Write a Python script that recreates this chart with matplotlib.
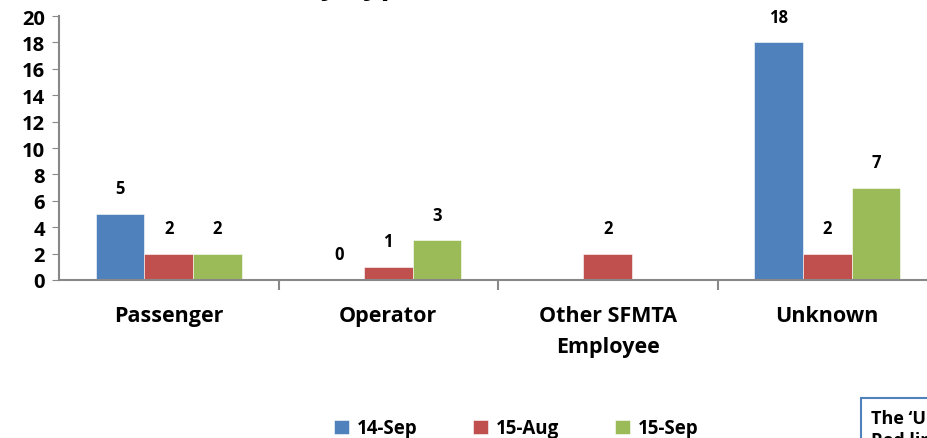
import numpy as np
from matplotlib import pyplot as plt

CATEGORIES = ["Passenger", "Operator", "Other SFMTA\nEmployee", "Unknown"]
SERIES = ["14-Sep", "15-Aug", "15-Sep"]
SEP_14 = [5, 0, np.nan, 18]
AUG_15 = [2, 1, 2, 2]
SEP_15 = [2, 3, np.nan, 7]
COLORS = ["#4F81BD", "#C0504D", "#9BBB59"]
Y_TICKS = list(range(0, 21, 2))

plt.rcParams['font.family'] = ['Open Sans', 'DejaVu Sans']
plt.rcParams['font.weight'] = 'bold'

fig = plt.figure(figsize=(9.27, 4.39), dpi=100)
ax = fig.add_axes([59 / 927, 158 / 439, 4 * 219.5 / 927, 264 / 439])

x = np.arange(len(CATEGORIES))
w = 0.222
for i, (name, vals, col) in enumerate(zip(SERIES, [SEP_14, AUG_15, SEP_15], COLORS)):
    pos = x + (i - 1) * w
    ax.bar(pos, vals, w, color=col, label=name, edgecolor='white', linewidth=0.4)
    for p, v in zip(pos, vals):
        if not np.isnan(v):
            ax.annotate(f"{v:g}", (p, v), xytext=(0, 18.5), textcoords='offset points',
                        ha='center', va='center', fontsize=12, fontweight='bold')

ax.set_xlim(-0.5, 3.5)
ax.set_ylim(0, 20)
ax.set_yticks(Y_TICKS)
ax.tick_params(axis='y', labelsize=14.5, length=5, color='#888888', pad=5)
ax.set_xticks(x)
ax.set_xticklabels(CATEGORIES, fontsize=15.5, fontweight='bold', linespacing=1.6)
ax.tick_params(axis='x', length=0, pad=18)
ax.set_xticks(np.arange(0.5, 3.5, 1), minor=True)
ax.tick_params(axis='x', which='minor', length=7, color='#888888', width=1.5)
for lab in ax.get_yticklabels():
    lab.set_fontweight('bold')

for s in ['top', 'right']:
    ax.spines[s].set_visible(False)
for s in ['left', 'bottom']:
    ax.spines[s].set_color('#888888')
    ax.spines[s].set_linewidth(1.5)

leg = fig.legend(loc='center', bbox_to_anchor=(0.557, 0.022), ncol=3, frameon=False,
                 handlelength=0.8, handleheight=0.8, columnspacing=3.0,
                 handletextpad=0.4, prop={'weight': 'bold', 'size': 13.5})

fig.text(0.315, 1.014, "Assaults by Type", ha='center', va='baseline', fontsize=22, fontweight='bold')

fig.text(0.94, -0.025, "The \u2018Unknown\u2019 category\nRed line", ha='left', va='bottom',
         fontsize=13, fontweight='bold', linespacing=1.3,
         bbox=dict(boxstyle='square,pad=0.6', facecolor='white', edgecolor='#4F81BD', linewidth=1.5))

fig.savefig("out.png", dpi=100)
